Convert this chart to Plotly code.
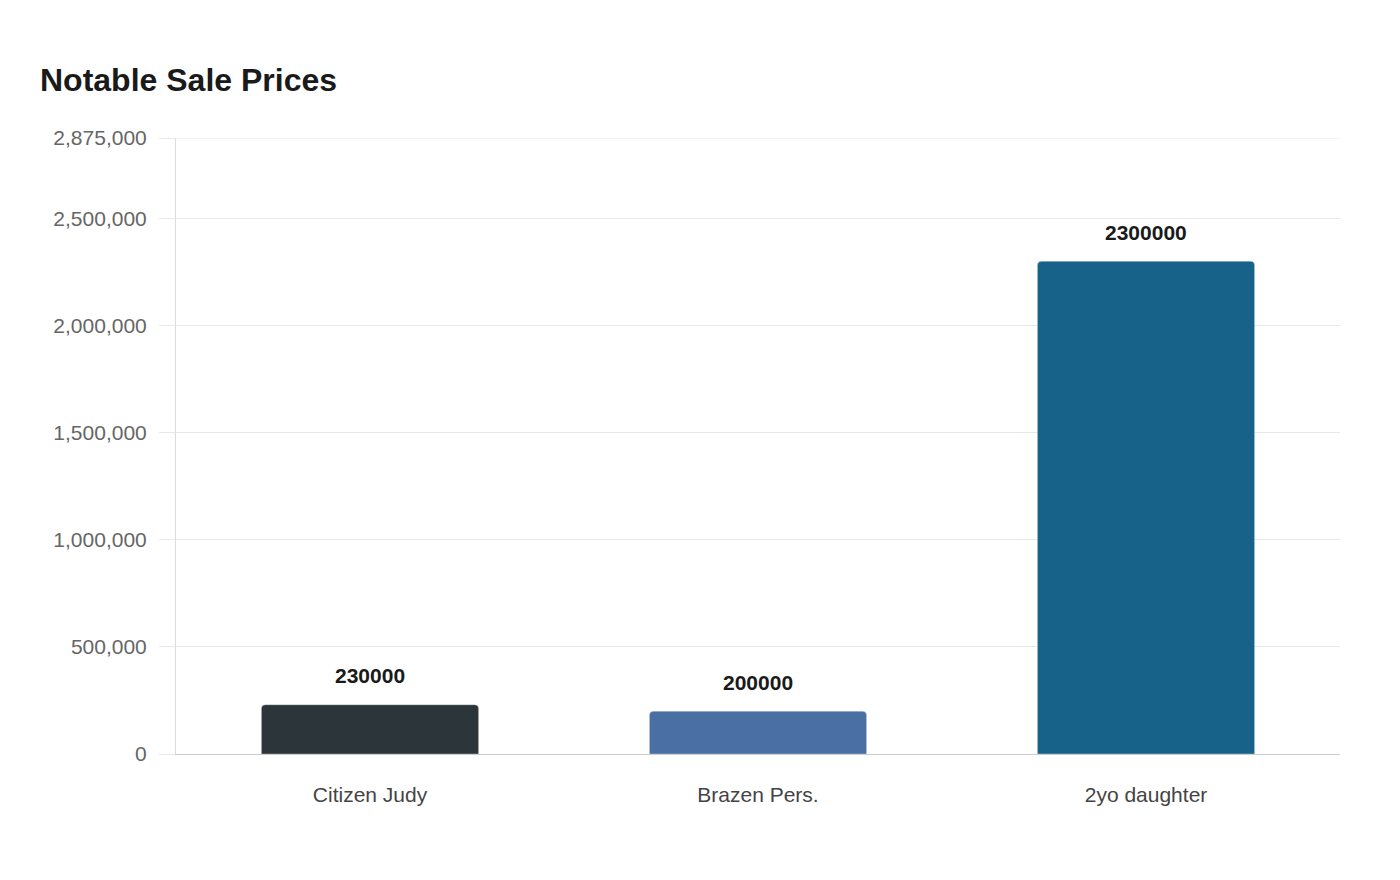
import plotly.graph_objects as go

# bar data
names = ["Citizen Judy", "Brazen Pers.", "2yo daughter"]
prices = [230000, 200000, 2300000]
bar_colors = ["#2c3539", "#4a6fa5", "#176289"]

y_ticks = [0, 500000, 1000000, 1500000, 2000000, 2500000, 2875000]
y_max = 2875000

FONT = "Liberation Sans, Arial, sans-serif"
GRID = "#e8e8e8"

fig = go.Figure()

fig.add_trace(go.Bar(
    x=names, y=prices,
    marker=dict(color=bar_colors, cornerradius=4,
                line=dict(color="rgba(255,255,255,0.35)", width=1)),
    hoverinfo="x+y",
))

# value labels sit a little above each bar
for n, p in zip(names, prices):
    fig.add_annotation(
        x=n, y=p, text=str(p), showarrow=False,
        yshift=29, yanchor="middle",
        font=dict(family=FONT, size=21, color="#1a1a1a", weight="bold"),
    )

# top gridline (plotly skips the one on the range edge)
fig.add_shape(type="line", xref="paper", yref="y", x0=0, x1=1, y0=y_max, y1=y_max,
              line=dict(color=GRID, width=1), layer="below")

# page body has an 8px margin, so margins are shifted to compensate
fig.update_layout(
    width=1400, height=880,
    paper_bgcolor="white", plot_bgcolor="white",
    font=dict(family=FONT),
    title=dict(
        text="<b>Notable Sale Prices</b>",
        x=32 / 1400, xanchor="left", xref="container",
        y=1 - 72 / 880, yanchor="middle", yref="container",
        font=dict(size=32, color="#1a1a1a"),
    ),
    margin=dict(l=168, r=68, t=130, b=134),
    bargap=0.44,
    showlegend=False,
)

fig.update_yaxes(
    range=[0, y_max], tickvals=y_ticks, tickformat=",",
    showgrid=True, gridcolor=GRID, gridwidth=1,
    ticks="outside", ticklen=16, tickcolor=GRID,
    ticklabelstandoff=8,
    showline=True, linecolor="#dddddd", linewidth=1,
    zeroline=False,
    tickfont=dict(size=21, color="#666666"),
)
fig.update_xaxes(
    showline=True, linecolor="#cccccc", linewidth=1,
    ticks="", tickfont=dict(size=21, color="#444444"),
    ticklabelstandoff=22,
)

fig.write_html("out.html")
